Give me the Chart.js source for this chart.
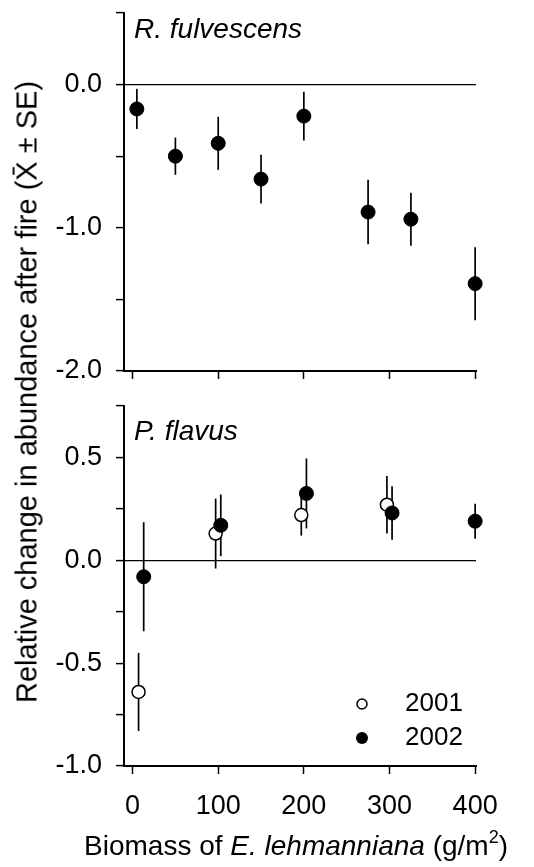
<!DOCTYPE html>
<html>
<head>
<meta charset="utf-8">
<script src="https://cdn.jsdelivr.net/npm/chart.js@4.4.0/dist/chart.umd.min.js"></script>
<style>
  body { margin: 0; background: #fff; }
  #wrap { position: relative; width: 534px; height: 867px; overflow: hidden; }
  canvas { position: absolute; left: 0; }
  #ytitle {
    position: absolute; left: 27px; top: 392px;
    transform: translate(-50%, -50%) rotate(-90deg);
    white-space: nowrap; font: 29px "Liberation Sans", Arial, sans-serif; color: #000;
  }
</style>
</head>
<body>
<div id="wrap">
  <canvas id="top" width="534" height="390" style="top:0"></canvas>
  <canvas id="bottom" width="534" height="477" style="top:390px"></canvas>
  <div id="ytitle">Relative change in abundance after fire (X&#772; &#177; SE)</div>
</div>
<script>
// R. fulvescens (2002 only)
const rfX    = [5, 50, 100, 150, 200, 275, 325, 400];
const rfMean = [-0.17, -0.50, -0.41, -0.66, -0.22, -0.89, -0.94, -1.39];
const rfSE   = [0.14, 0.13, 0.185, 0.17, 0.17, 0.225, 0.185, 0.255];

// P. flavus
const pf01X    = [7, 97, 197, 297];
const pf01Mean = [-0.64, 0.13, 0.22, 0.27];
const pf01SE   = [0.19, 0.17, 0.10, 0.14];
const pf02X    = [13, 103, 203, 303, 400];
const pf02Mean = [-0.08, 0.17, 0.325, 0.23, 0.19];
const pf02SE   = [0.265, 0.15, 0.17, 0.13, 0.085];

const xTicks = [0, 100, 200, 300, 400];
const FONT = '"Liberation Sans", Arial, sans-serif';
const TICK_SIZE = 27;

Chart.defaults.font.family = FONT;
Chart.defaults.color = '#000';

const pts = (xs, ys) => xs.map((x, i) => ({ x: x, y: ys[i] }));

// vertical error bars, drawn under the points
const errorBars = {
  id: 'errorBars',
  beforeDatasetsDraw(chart) {
    const c = chart.ctx, ys = chart.scales.y;
    c.save();
    c.strokeStyle = '#000';
    c.lineWidth = 1.7;
    chart.data.datasets.forEach((ds, i) => {
      chart.getDatasetMeta(i).data.forEach((p, j) => {
        const v = ds.data[j].y, e = ds.se[j];
        c.beginPath();
        c.moveTo(p.x, ys.getPixelForValue(v + e));
        c.lineTo(p.x, ys.getPixelForValue(v - e));
        c.stroke();
      });
    });
    c.restore();
  }
};

// species name inside the plot, top left
const panelLabel = {
  id: 'panelLabel',
  afterDraw(chart, args, opts) {
    const c = chart.ctx, a = chart.chartArea;
    c.save();
    c.font = 'italic 28px ' + FONT;
    c.fillStyle = '#000';
    c.textBaseline = 'middle';
    c.fillText(opts.text, a.left + 10, a.top + opts.dy);
    c.restore();
  }
};

function xScale(showLabels) {
  return {
    type: 'linear', min: -10, max: 401,
    afterBuildTicks: s => { s.ticks = xTicks.map(v => ({ value: v })); },
    afterFit: s => {
      s.height = showLabels ? 101 : 19;
      s.paddingLeft = 0; s.paddingRight = 0;
    },
    grid: { drawOnChartArea: false, tickLength: 8, tickColor: '#000', tickWidth: 1.5 },
    border: { color: '#000', width: 2 },
    ticks: { display: showLabels, font: { size: TICK_SIZE }, padding: 16, maxRotation: 0 }
  };
}

// ticks every `step`, labels only every `labelStep`
function yScale(min, max, step, labelStep) {
  return {
    min: min, max: max,
    afterBuildTicks: s => {
      const t = [];
      for (let v = min; v <= max + 1e-9; v += step) t.push({ value: Math.round(v * 100) / 100 });
      s.ticks = t;
    },
    afterFit: s => {
      s.width = 124;
      s.paddingTop = 0; s.paddingBottom = 0;
    },
    grid: {
      drawOnChartArea: true, tickLength: 8, tickColor: '#000', tickWidth: 1.5,
      color: c => (c.tick && c.tick.value === 0) ? '#000' : 'rgba(0,0,0,0)',
      lineWidth: 1.2
    },
    border: { color: '#000', width: 2 },
    ticks: {
      font: { size: TICK_SIZE }, padding: 14,
      callback: v => Math.abs(v / labelStep - Math.round(v / labelStep)) < 1e-9 ? v.toFixed(1) : ''
    }
  };
}

new Chart(document.getElementById('top'), {
  type: 'scatter',
  data: {
    datasets: [{
      label: '2002',
      data: pts(rfX, rfMean),
      se: rfSE,
      clip: false,
      pointRadius: 7,
      backgroundColor: '#000',
      borderColor: '#000'
    }]
  },
  options: {
    responsive: false,
    animation: false,
    layout: { padding: { top: 13, right: 58, bottom: 0, left: 0 }, autoPadding: false },
    plugins: {
      legend: { display: false },
      tooltip: { enabled: false },
      panelLabel: { text: 'R. fulvescens', dy: 17 }
    },
    scales: { x: xScale(false), y: yScale(-2, 0.5, 0.5, 1) }
  },
  plugins: [errorBars, panelLabel]
});

// legend + x title for the lower panel
const lowerExtras = {
  id: 'lowerExtras',
  afterDraw(chart) {
    const c = chart.ctx, a = chart.chartArea;
    c.save();
    c.fillStyle = '#000';
    c.strokeStyle = '#000';
    c.textBaseline = 'middle';
    c.font = '26px ' + FONT;
    const lx = a.right - 114;
    chart.data.datasets.forEach((ds, i) => {
      const y = a.bottom - 62 + i * 34;
      c.beginPath();
      if (ds.label === '2001') {
        c.arc(lx, y, 5, 0, Math.PI * 2);
        c.fillStyle = '#fff'; c.fill();
        c.lineWidth = 1.5; c.stroke();
      } else {
        c.arc(lx, y, 6, 0, Math.PI * 2);
        c.fillStyle = '#000'; c.fill();
      }
      c.fillStyle = '#000';
      c.fillText(ds.label, lx + 43, y);
    });

    // Biomass of E. lehmanniana (g/m2)
    const segs = [
      ['Biomass of ', '28px ', 0],
      ['E. lehmanniana', 'italic 28px ', 0],
      [' (g/m', '28px ', 0],
      ['2', '18px ', -12],
      [')', '28px ', 0]
    ];
    c.textBaseline = 'alphabetic';
    let w = 0;
    segs.forEach(s => { c.font = s[1] + FONT; w += c.measureText(s[0]).width; });
    let x = 296 - w / 2;
    const base = chart.height - 12;
    segs.forEach(s => {
      c.font = s[1] + FONT;
      c.fillText(s[0], x, base + s[2]);
      x += c.measureText(s[0]).width;
    });
    c.restore();
  }
};

new Chart(document.getElementById('bottom'), {
  type: 'scatter',
  data: {
    datasets: [{
      label: '2001',
      data: pts(pf01X, pf01Mean),
      se: pf01SE,
      order: 1,
      clip: false,
      pointRadius: 6.5,
      borderWidth: 1.5,
      backgroundColor: '#fff',
      borderColor: '#000'
    }, {
      label: '2002',
      data: pts(pf02X, pf02Mean),
      se: pf02SE,
      order: 0,
      clip: false,
      pointRadius: 7,
      backgroundColor: '#000',
      borderColor: '#000'
    }]
  },
  options: {
    responsive: false,
    animation: false,
    layout: { padding: { top: 16, right: 58, bottom: 0, left: 0 }, autoPadding: false },
    plugins: {
      legend: { display: false },
      tooltip: { enabled: false },
      panelLabel: { text: 'P. flavus', dy: 26 }
    },
    scales: { x: xScale(true), y: yScale(-1, 0.75, 0.25, 0.5) }
  },
  plugins: [errorBars, panelLabel, lowerExtras]
});
</script>
</body>
</html>
